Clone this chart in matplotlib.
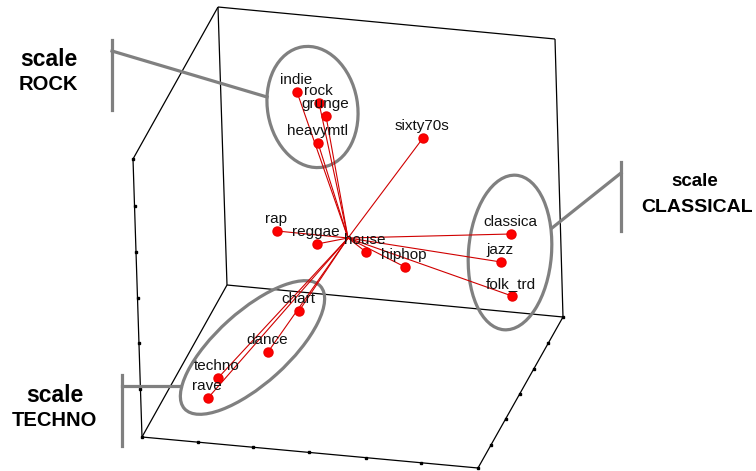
import matplotlib
matplotlib.use("Agg")
import matplotlib.pyplot as plt
from matplotlib.patches import Ellipse
import numpy as np

# ---- data (projected screen positions of the genre loadings) ----
genres = ["indie", "rock", "grunge", "heavymtl", "sixty70s", "rap", "reggae",
          "house", "hiphop", "classica", "jazz", "folk_trd", "chart", "dance",
          "techno", "rave"]
proj_x = [297, 319, 326, 318, 423, 277, 317, 366, 405, 511, 501, 512, 299, 268, 218, 208]
proj_y = [92, 103, 116, 143, 138, 231, 244, 252, 267, 234, 262, 296, 311, 352, 378, 398]
origin_x = [348]
origin_y = [238]

# 3D box frame edges (projected)
frame_x = [[218, 555], [555, 563], [218, 227], [227, 563], [218, 133], [133, 142],
           [227, 142], [142, 478], [478, 563]]
frame_y = [[7, 39], [39, 317], [7, 285], [285, 317], [7, 159], [159, 437],
           [285, 437], [437, 468], [468, 317]]
tick_bottom_x = [198, 253, 309, 366, 421]
tick_right_y = [343, 369, 394, 419, 445]
tick_left_y = [206, 252, 298, 343, 389]

# scale groupings: ellipse centre, width, height, angle
group_names = ["ROCK", "CLASSICAL", "TECHNO"]
ell_cx = [312.5, 510, 252.5]
ell_cy = [107, 252.5, 347.5]
ell_w = [90, 83, 183]
ell_h = [122, 155, 72]
ell_ang = [-10, 4.5, -42]

fig = plt.figure(figsize=(7.56, 4.71), dpi=100)
ax = fig.add_axes([0, 0, 1, 1])
ax.set_xlim(0, 756)
ax.set_ylim(471, 0)
ax.axis("off")

# frame
for fx, fy in zip(frame_x, frame_y):
    ax.plot(fx, fy, color="black", lw=0.9, zorder=1, solid_capstyle="butt")

tbx = [x for x in tick_bottom_x]
tby = [437 + (x - 142) * (468 - 437) / (478 - 142) for x in tick_bottom_x]
ax.plot(tbx, tby, "s", color="black", ms=1.5, zorder=1)
trx = [478 + (y - 468) * (563 - 478) / (317 - 468) for y in tick_right_y]
ax.plot(trx, tick_right_y, "s", color="black", ms=1.5, zorder=1)
tlx = [133 + (y - 159) * (142 - 133) / (437 - 159) for y in tick_left_y]
ax.plot(tlx, tick_left_y, "s", color="black", ms=1.5, zorder=1)
ax.plot([133, 142, 563, 478], [159, 437, 317, 468], "s", color="black", ms=1.5, zorder=1)

# ellipses
gray = "#808080"
for cx, cy, w, h, a in zip(ell_cx, ell_cy, ell_w, ell_h, ell_ang):
    ax.add_patch(Ellipse((cx, cy), w, h, angle=a, fill=False, edgecolor=gray,
                         lw=2.3, zorder=2))

# callout brackets
ax.plot([112, 112], [40, 110], color=gray, lw=2.3, zorder=2)
ax.plot([112, 267], [51, 97], color=gray, lw=2.3, zorder=2)
ax.plot([621, 621], [162, 231], color=gray, lw=2.3, zorder=2)
ax.plot([621, 552], [173, 228], color=gray, lw=2.3, zorder=2)
ax.plot([122, 122], [375, 446], color=gray, lw=2.3, zorder=2)
ax.plot([122, 181], [386, 386], color=gray, lw=2.3, zorder=2)

# loading vectors
for x, y in zip(proj_x, proj_y):
    ax.plot([origin_x[0], x], [origin_y[0], y], color="#d00000", lw=0.8, zorder=3)
ax.plot(proj_x, proj_y, "o", color="#ff0000", ms=6.5, mec="#ee0000", zorder=4)

for g, x, y in zip(genres, proj_x, proj_y):
    ax.annotate(g, (x, y), xytext=(-1, 12), textcoords="offset pixels",
                ha="center", va="center", fontsize=11,
                family="Liberation Sans", color="#111111", zorder=5)

# scale labels
bold = dict(family="Liberation Sans", fontweight="bold", color="black",
            ha="center", va="center")
ax.text(48.5, 60, "scale", fontsize=16.5, **bold)
ax.text(48.5, 85, "ROCK", fontsize=14.5, **bold)
ax.text(695, 182, "scale", fontsize=13.5, **bold)
ax.text(697.5, 207, "CLASSICAL", fontsize=14, **bold)
ax.text(54.5, 396, "scale", fontsize=16.5, **bold)
ax.text(54, 420, "TECHNO", fontsize=14.5, **bold)

fig.savefig("out.png", dpi=100)
